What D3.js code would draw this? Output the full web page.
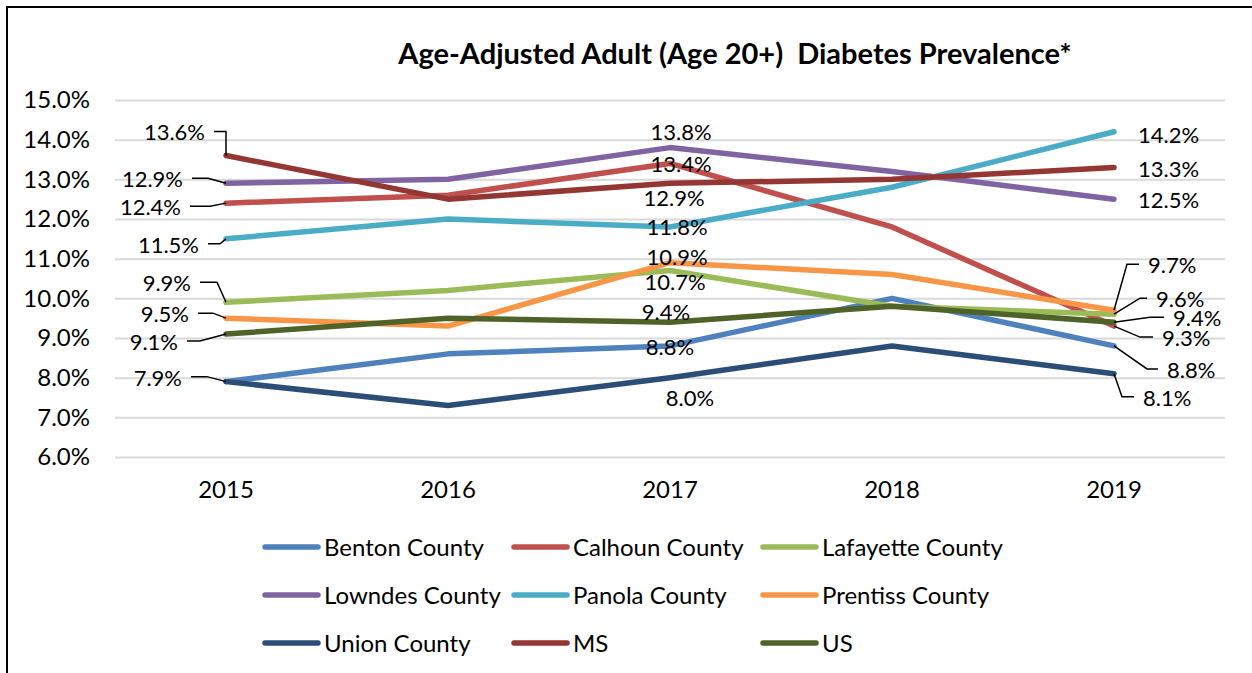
<!DOCTYPE html>
<html>
<head>
<meta charset="utf-8">
<script src="https://cdn.jsdelivr.net/npm/d3@7"></script>
<style>
  html, body { margin: 0; padding: 0; background: #ffffff; }
  svg { display: block; font-family: "Lato", "Open Sans", sans-serif; }
</style>
</head>
<body>
<svg id="chart" width="1252" height="673"></svg>
<script>
// Diabetes prevalence (%) by year, adults 20+, age-adjusted
const years = ["2015", "2016", "2017", "2018", "2019"];
const yTicks = [6, 7, 8, 9, 10, 11, 12, 13, 14, 15];

const seriesNames = [
  "Benton County", "Calhoun County", "Lafayette County",
  "Lowndes County", "Panola County", "Prentiss County",
  "Union County", "MS", "US"
];

const bentonCounty    = [7.9, 8.6, 8.8, 10.0, 8.8];
const calhounCounty   = [12.4, 12.6, 13.4, 11.8, 9.3];
const lafayetteCounty = [9.9, 10.2, 10.7, 9.8, 9.6];
const lowndesCounty   = [12.9, 13.0, 13.8, 13.2, 12.5];
const panolaCounty    = [11.5, 12.0, 11.8, 12.8, 14.2];
const prentissCounty  = [9.5, 9.3, 10.9, 10.6, 9.7];
const unionCounty     = [7.9, 7.3, 8.0, 8.8, 8.1];
const msState         = [13.6, 12.5, 12.9, 13.0, 13.3];
const usNational      = [9.1, 9.5, 9.4, 9.8, 9.4];

const seriesValues = [
  bentonCounty, calhounCounty, lafayetteCounty,
  lowndesCounty, panolaCounty, prentissCounty,
  unionCounty, msState, usNational
];

const seriesColors = [
  "#4F81BD", "#C0504D", "#9BBB59",
  "#8064A2", "#4BACC6", "#F79646",
  "#2C4D75", "#943634", "#4F6228"
];

// Which values carry a data label: [series index, year index]
const labelled = [
  [7, 0], [3, 0], [1, 0], [4, 0], [2, 0], [5, 0], [8, 0], [6, 0],
  [3, 2], [1, 2], [7, 2], [4, 2], [5, 2], [2, 2], [8, 2], [0, 2], [6, 2],
  [4, 4], [7, 4], [3, 4], [5, 4], [2, 4], [8, 4], [1, 4], [0, 4], [6, 4]
];
// Label placement relative to its point: text offset (dx, dy) and leader elbow offset (null = no leader)
const labelPlacement = [
  [-21, -23, 0], [-43, -4, -18], [-45, 4, -16], [-27, 6, -6], [-35, -19, -9], [-37, -4, -13], [-48, 8, -26], [-44, -4, -19],
  [11, -16, null], [11, 1, null], [4, 15, null], [7, 0, null], [7, -6, null], [5, 12, null], [-4, -10, null], [0, 1, null], [20, 20, null],
  [24, 3, null], [24, 2, null], [24, 1, null], [34, -45, 13], [42, -15, 26], [59, -4, 36], [48, 12, 26], [53, 24, 33], [29, 24, 8]
];

const title = "Age-Adjusted Adult (Age 20+)  Diabetes Prevalence*";

const svg = d3.select("#chart");
const W = 1252, H = 673;

// Chart frame (left and top edges show inside the view)
svg.append("path")
  .attr("d", `M7,${H} L7,7 L${W},7`)
  .attr("fill", "none").attr("stroke", "#000").attr("stroke-width", 2);

const plot = { left: 115, right: 1225, top: 100, bottom: 457 };

const x = d3.scaleBand().domain(years).range([plot.left, plot.right]);
const cx = yr => x(yr) + x.bandwidth() / 2;
const y = d3.scaleLinear().domain([6, 15]).range([plot.bottom, plot.top]);
const pct = d3.format(".1f");

// Title
svg.append("text")
  .attr("x", 735).attr("y", 64)
  .attr("text-anchor", "middle")
  .style("white-space", "pre")
  .attr("font-weight", "bold")
  .attr("font-size", 29)
  .attr("fill", "#000")
  .text(title);

// Y axis with gridlines
const yAxis = svg.append("g")
  .attr("transform", `translate(${plot.left},0)`)
  .call(d3.axisLeft(y).tickValues(yTicks)
    .tickSize(-(plot.right - plot.left))
    .tickPadding(25)
    .tickFormat(d => pct(d) + "%"));
yAxis.select(".domain").remove();
yAxis.selectAll(".tick line").attr("stroke", "#D9D9D9").attr("stroke-width", 2);
yAxis.selectAll(".tick text").attr("font-size", 24).attr("fill", "#000")
  .attr("font-family", "Lato, sans-serif");

// X axis labels
const xAxis = svg.append("g")
  .attr("transform", `translate(0,${plot.bottom})`)
  .call(d3.axisBottom(x).tickSize(0).tickPadding(24));
xAxis.select(".domain").remove();
xAxis.selectAll(".tick text").attr("font-size", 24).attr("fill", "#000")
  .attr("font-family", "Lato, sans-serif");

// Series lines
const line = d3.line().x((d, i) => cx(years[i])).y(d => y(d));
svg.append("g").selectAll("path")
  .data(seriesValues)
  .join("path")
  .attr("d", d => line(d))
  .attr("fill", "none")
  .attr("stroke", (d, i) => seriesColors[i])
  .attr("stroke-width", 5.5)
  .attr("stroke-linecap", "round")
  .attr("stroke-linejoin", "round");

// Data labels with leader lines
const labels = labelled.map(([s, t], k) => {
  const [dx, dy, elbow] = labelPlacement[k];
  return { s, t, px: cx(years[t]), py: y(seriesValues[s][t]), dx, dy, elbow,
           value: seriesValues[s][t] };
});

const lg = svg.append("g");
labels.forEach(L => {
  const anchor = L.t === 0 ? "end" : (L.t === years.length - 1 ? "start" : "middle");
  const tx = L.px + L.dx, ty = L.py + L.dy;
  if (L.elbow !== null) {
    const startX = anchor === "end" ? tx + 9 : tx - 9;
    const ex = L.px + L.elbow;
    lg.append("path")
      .attr("d", `M${startX},${ty - 1} L${ex},${ty - 1} L${L.px},${L.py}`)
      .attr("fill", "none").attr("stroke", "#000").attr("stroke-width", 1.5);
  }
  lg.append("text")
    .attr("x", tx).attr("y", ty)
    .attr("dy", "0.36em")
    .attr("text-anchor", anchor)
    .attr("font-size", 22)
    .attr("fill", "#000")
    .text(pct(L.value) + "%");
});

// Legend: three columns by three rows
const legendCols = [265, 514, 763];
const legendRows = [547, 595, 643];
const leg = svg.append("g");
seriesNames.forEach((name, i) => {
  const lx = legendCols[i % 3], ly = legendRows[Math.floor(i / 3)];
  leg.append("line")
    .attr("x1", lx).attr("x2", lx + 53).attr("y1", ly).attr("y2", ly)
    .attr("stroke", seriesColors[i]).attr("stroke-width", 5.5)
    .attr("stroke-linecap", "round");
  leg.append("text")
    .attr("x", lx + 59).attr("y", ly).attr("dy", "0.36em")
    .attr("font-size", 24).attr("fill", "#000")
    .text(name);
});
</script>
</body>
</html>
